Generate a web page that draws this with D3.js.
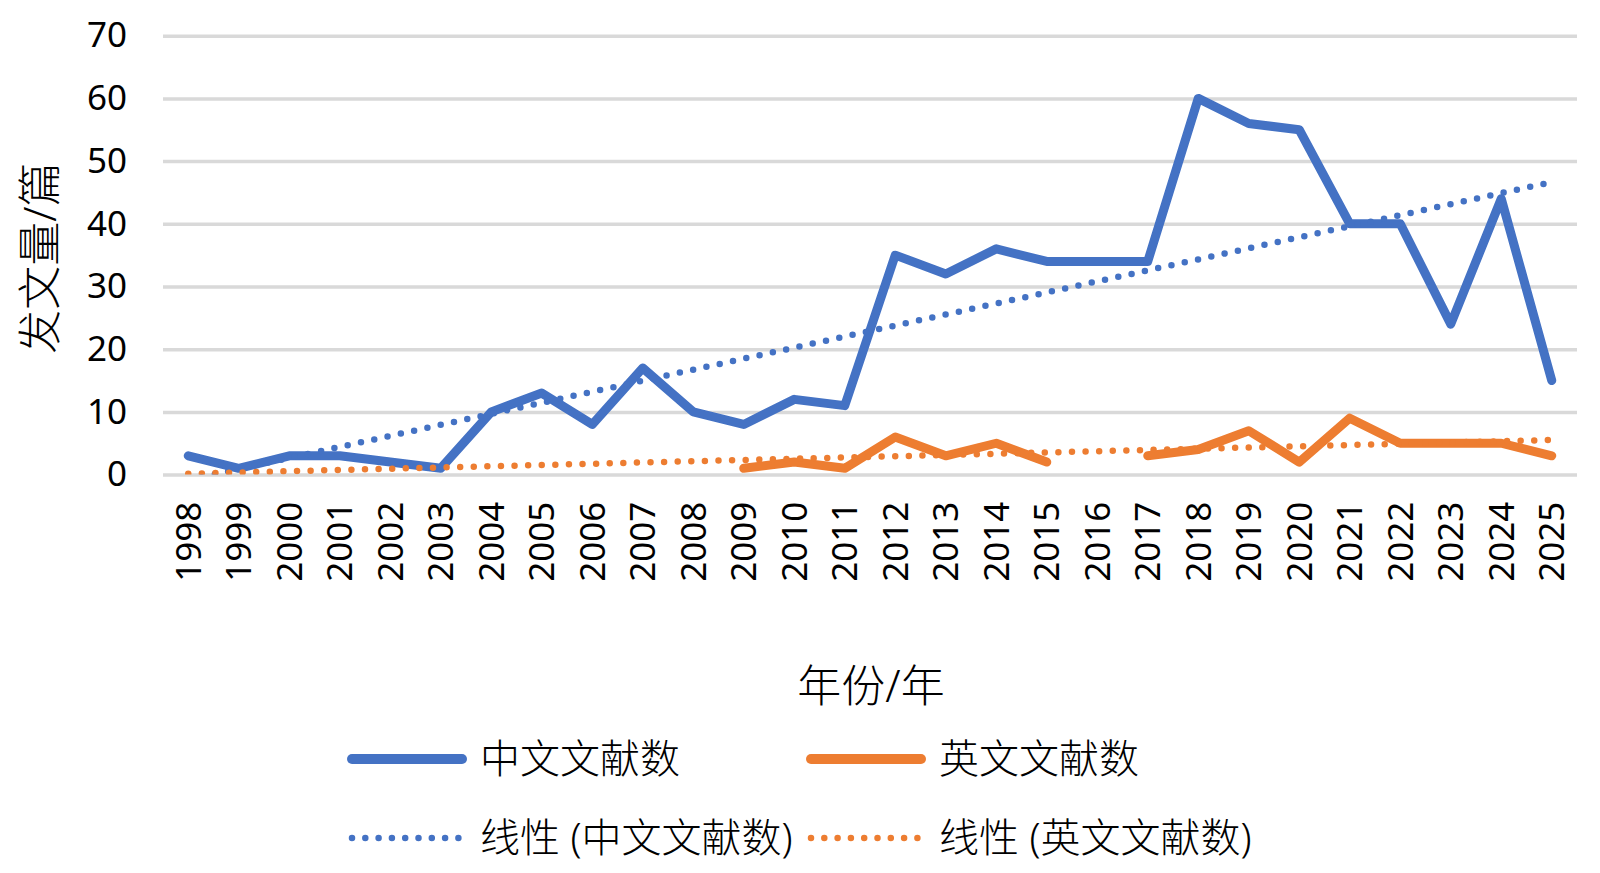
<!DOCTYPE html>
<html><head><meta charset="utf-8">
<script src="https://cdn.jsdelivr.net/npm/d3@7"></script>
<style>
html,body{margin:0;padding:0;background:#fff;}
text{font-family:"Noto Sans","Noto Sans CJK SC",sans-serif;fill:#000;}
.cjk{font-weight:300;}
</style></head>
<body><svg id="chart" width="1600" height="873"></svg>
<script>
const years = ["1998","1999","2000","2001","2002","2003","2004","2005","2006","2007","2008","2009","2010","2011","2012","2013","2014","2015","2016","2017","2018","2019","2020","2021","2022","2023","2024","2025"];
const chineseCounts = [3,1,3,3,2,1,10,13,8,17,10,8,12,11,35,32,36,34,34,34,60,56,55,40,40,24,44,15];
const englishCounts = [null,null,null,null,null,null,null,null,null,null,null,1,2,1,6,3,5,2,null,3,4,7,2,9,5,5,5,3];
const yTicks = [0,10,20,30,40,50,60,70];
const seriesNames = ["中文文献数","英文文献数"];
const trendNames = ["线性 (中文文献数)","线性 (英文文献数)"];
const colors = ["#4472C4","#ED7D31"];

const svg = d3.select("#chart");
const m = {left:163, right:1577, top:35.7, bottom:474.6};
const x = d3.scaleBand().domain(years).range([m.left, m.right]);
const y = d3.scaleLinear().domain([0,70]).range([m.bottom, m.top]);
const cx = yr => x(yr) + x.bandwidth()/2;

svg.append("defs").append("clipPath").attr("id","plot")
  .append("rect").attr("x", m.left).attr("y", m.top).attr("width", m.right-m.left).attr("height", m.bottom-m.top);

// grid
const gy = svg.append("g").attr("transform",`translate(${m.left},0)`)
  .call(d3.axisLeft(y).tickValues(yTicks).tickSize(-(m.right-m.left)).tickFormat(""));
gy.select(".domain").remove();
gy.selectAll("line").attr("stroke","#D9D9D9").attr("stroke-width",3.5);

// y labels
const yl = svg.append("g").attr("transform",`translate(127,0)`)
  .call(d3.axisLeft(y).tickValues(yTicks).tickSize(0).tickPadding(0));
yl.select(".domain").remove();
yl.selectAll("text").attr("font-size",35).attr("fill","#000")
  .style("font-family",'"Noto Sans","Noto Sans CJK SC",sans-serif');

// x labels
const xl = svg.append("g").attr("transform",`translate(0,${m.bottom})`)
  .call(d3.axisBottom(x).tickSize(0).tickPadding(0));
xl.select(".domain").remove();
xl.selectAll("text").attr("font-size",35).attr("fill","#000")
  .style("font-family",'"Noto Sans","Noto Sans CJK SC",sans-serif')
  .attr("text-anchor","end").attr("transform","translate(0,27) rotate(-90)")
  .attr("x",0).attr("y",0).attr("dy","0.35em");

const seriesData = [chineseCounts, englishCounts].map(arr => years.map((yr,i)=>({yr, i:i+1, v:arr[i]})));

const line = d3.line().defined(d => d.v != null).x(d => cx(d.yr)).y(d => y(d.v));
const g = svg.append("g").attr("clip-path","url(#plot)");
seriesData.forEach((s,k) => {
  g.append("path").datum(s).attr("d", line).attr("fill","none")
    .attr("stroke", colors[k]).attr("stroke-width",9)
    .attr("stroke-linejoin","round").attr("stroke-linecap","round");
});

// linear trend lines (least squares on category index)
function fit(s){
  const p = s.filter(d => d.v != null);
  const mx = d3.mean(p, d=>d.i), my = d3.mean(p, d=>d.v);
  const sxy = d3.sum(p, d=>(d.i-mx)*(d.v-my)), sxx = d3.sum(p, d=>(d.i-mx)**2);
  const b = sxy/sxx, a = my - b*mx;
  return i => a + b*i;
}
seriesData.forEach((s,k) => {
  const f = fit(s);
  const ends = [s[0], s[s.length-1]].map(d => ({yr:d.yr, v:f(d.i)}));
  g.append("path").datum(ends)
    .attr("d", d3.line().x(d=>cx(d.yr)).y(d=>y(d.v)))
    .attr("fill","none").attr("stroke", colors[k]).attr("stroke-width",6.5)
    .attr("stroke-linecap","round").attr("stroke-dasharray","0 13.6");
});

// axis titles
svg.append("text").attr("class","cjk").attr("transform","translate(41,258) rotate(-90)")
  .attr("text-anchor","middle").attr("dy","0.35em").attr("font-size",44).text("发文量/篇");
svg.append("text").attr("class","cjk").attr("x",871).attr("y",687)
  .attr("text-anchor","middle").attr("dy","0.35em").attr("font-size",44).text("年份/年");

// legend
const legendX = [352, 811];
const rowsY = [759, 838];
seriesNames.forEach((n,k) => {
  svg.append("line").attr("x1",legendX[k]).attr("x2",legendX[k]+110).attr("y1",rowsY[0]).attr("y2",rowsY[0])
    .attr("stroke",colors[k]).attr("stroke-width",10).attr("stroke-linecap","round");
  svg.append("text").attr("class","cjk").attr("x",legendX[k]+128).attr("y",rowsY[0]).attr("dy","0.35em").attr("font-size",40).text(n);
});
trendNames.forEach((n,k) => {
  svg.append("line").attr("x1",legendX[k]).attr("x2",legendX[k]+110).attr("y1",rowsY[1]).attr("y2",rowsY[1])
    .attr("stroke",colors[k]).attr("stroke-width",6.5).attr("stroke-linecap","round").attr("stroke-dasharray","0 13.3");
  svg.append("text").attr("class","cjk").attr("x",legendX[k]+128).attr("y",rowsY[1]).attr("dy","0.35em").attr("font-size",40).text(n);
});
</script></body></html>
